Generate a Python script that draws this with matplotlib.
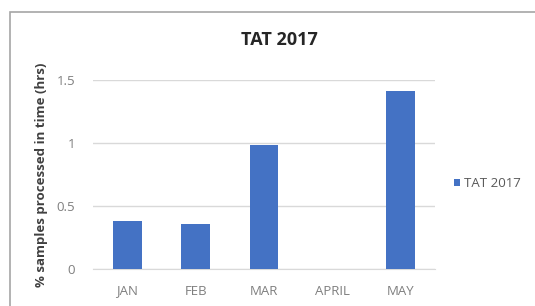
import matplotlib
matplotlib.use('Agg')
import matplotlib.pyplot as plt
import matplotlib.patches as mpatches

plt.rcParams['font.family'] = ['Open Sans', 'DejaVu Sans']

months = ['JAN', 'FEB', 'MAR', 'APRIL', 'MAY']
tat_2017 = [0.38, 0.36, 0.98, 0.0, 1.41]
y_ticks = [0, 0.5, 1, 1.5]
y_tick_labels = ['0', '0.5', '1', '1.5']

fig = plt.figure(figsize=(5.35, 3.06), dpi=100, facecolor='white')
ax = fig.add_axes([0.174, 0.12, 0.639, 0.62])

# chart frame (cropped at right / bottom like the screenshot)
fig.patches.append(mpatches.Rectangle((10 / 535, -0.1), 1.2, 1 - 12 / 306 + 0.1,
                                      transform=fig.transFigure, fill=False,
                                      edgecolor='#a6a6a6', linewidth=1.2))

x = range(len(months))
ax.bar(x, tat_2017, width=0.42, color='#4472C4', label='TAT 2017', zorder=3)

ax.set_xlim(-0.5, len(months) - 0.5)
ax.set_ylim(0, 1.5)
ax.set_yticks(y_ticks)
ax.set_yticklabels(y_tick_labels)
ax.set_xticks(list(x))
ax.set_xticklabels(months)
ax.yaxis.grid(True, color='#d9d9d9', linewidth=1, zorder=0)
ax.tick_params(length=0, labelsize=9.5, colors='#7f7f7f')
ax.tick_params(axis='x', pad=11)
ax.tick_params(axis='y', pad=13)
for s in ['top', 'right', 'left']:
    ax.spines[s].set_visible(False)
ax.spines['bottom'].set_color('#d9d9d9')

ax.set_ylabel('% samples processed in time (hrs)', fontsize=9.5, fontweight='bold',
              color='#404040', labelpad=6)
fig.text(0.523, 0.87, 'TAT 2017', ha='center', va='center', fontsize=13,
         fontweight='bold', color='#262626')

ax.legend(loc='center left', bbox_to_anchor=(1.02, 0.45), frameon=False,
          fontsize=9.5, handlelength=0.5, handleheight=0.5, handletextpad=0.3,
          labelcolor='#595959')

fig.savefig('out.png', dpi=100, facecolor='white')
